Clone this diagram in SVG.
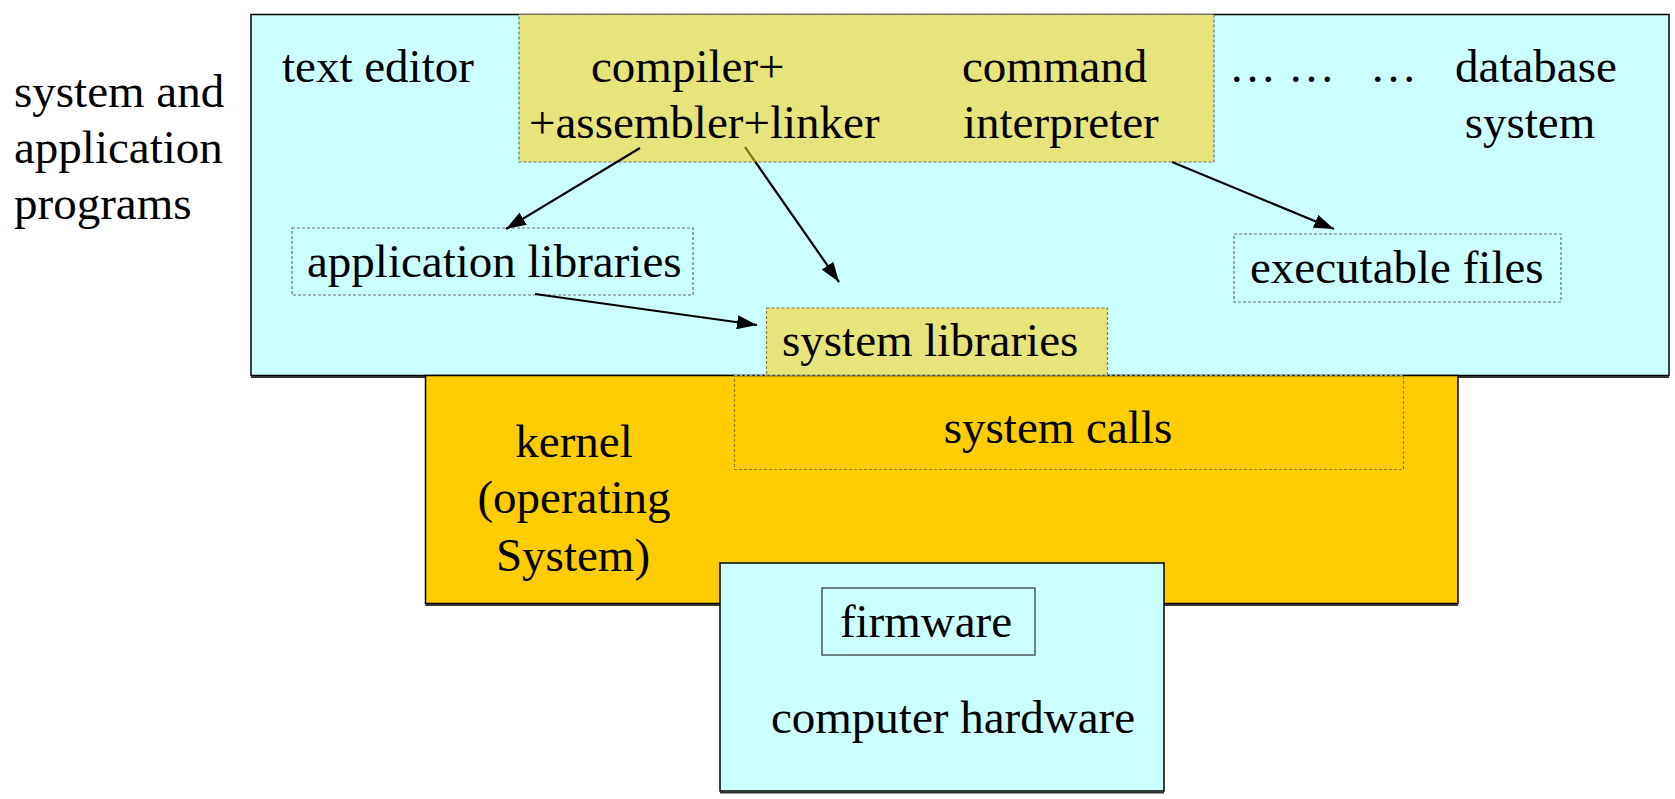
<svg xmlns="http://www.w3.org/2000/svg" width="1675" height="799" viewBox="0 0 1675 799">
<style>
text{font-family:'Liberation Serif','Times New Roman',serif;font-size:47px;fill:#000}
.cyan{fill:#CCFFFF;stroke:#000;stroke-width:1.5}
.olive{fill:#E6E47A}
.dash{fill:none;stroke:#6f6f6f;stroke-width:1.2;stroke-dasharray:3 2}
.dashO{fill:none;stroke:#8a7d3a;stroke-width:1.2;stroke-dasharray:3 2}
.conn{stroke:#000;stroke-width:2.2;fill:none}
.shadow{stroke:#333;stroke-width:2}
</style>
<defs>
<marker id="ah" viewBox="0 0 20 14" refX="20" refY="7" markerWidth="20" markerHeight="14" markerUnits="userSpaceOnUse" orient="auto">
<path d="M0,0 L20,7 L0,14 Z" fill="#000"/>
</marker>
</defs>
<rect width="1675" height="799" fill="#fff"/>

<g id="left-label">
<text x="14" y="107">system and</text>
<text x="14" y="163">application</text>
<text x="14" y="219">programs</text>
</g>

<g id="apps">
<rect class="cyan" x="251" y="14.5" width="1418" height="361"/>
<line class="shadow" x1="251" y1="377" x2="1669" y2="377"/>
<text x="282" y="82">text editor</text>
<text x="1229" y="82">…</text>
<text x="1288" y="82">…</text>
<text x="1370" y="82">…</text>
<text x="1536" y="82" text-anchor="middle">database</text>
<text x="1530" y="138" text-anchor="middle">system</text>
</g>

<g id="compiler">
<rect class="olive" x="519" y="14.5" width="695" height="147.5"/>
<rect class="dash" x="519" y="14.5" width="695" height="147.5"/>
<text x="591" y="82">compiler+</text>
<text x="529" y="138">+assembler+linker</text>
<text x="962" y="82">command</text>
<text x="963" y="138">interpreter</text>
</g>

<g id="app-libraries">
<rect class="dash" x="292" y="228" width="401" height="67"/>
<text x="307" y="277">application libraries</text>
</g>

<g id="executable-files">
<rect class="dash" x="1234" y="234" width="327" height="68"/>
<text x="1250" y="283">executable files</text>
</g>

<g id="kernel">
<rect x="425.5" y="375.5" width="1032.5" height="228" fill="#FFCC00" stroke="#000" stroke-width="1.5"/>
<line class="shadow" x1="425.5" y1="605" x2="1458" y2="605"/>
<text x="574" y="457" text-anchor="middle">kernel</text>
<text x="574" y="513" text-anchor="middle">(operating</text>
<text x="573" y="571" text-anchor="middle">System)</text>
</g>

<g id="system-calls">
<rect class="dashO" x="734.5" y="375" width="669" height="94.5"/>
<line x1="734.5" y1="375" x2="1403.5" y2="375" stroke="#a8c8c8" stroke-width="1.5" stroke-dasharray="3 2"/>
<text x="1058" y="443" text-anchor="middle">system calls</text>
</g>

<g id="system-libraries">
<rect class="olive" x="766.5" y="308" width="341" height="67"/>
<rect class="dashO" x="766.5" y="308" width="341" height="67"/>
<text x="782" y="356">system libraries</text>
</g>

<g id="hardware">
<rect class="cyan" x="720" y="563" width="444" height="228"/>
<line class="shadow" x1="720" y1="792.5" x2="1164" y2="792.5"/>
<text x="953" y="733" text-anchor="middle">computer hardware</text>
</g>

<g id="firmware">
<rect x="822" y="588" width="213" height="67" fill="none" stroke="#4a5a5a" stroke-width="1.5"/>
<text x="926" y="637" text-anchor="middle">firmware</text>
</g>

<g id="connectors">
<line class="conn" x1="640" y1="148" x2="506" y2="229" marker-end="url(#ah)"/>
<line x1="745" y1="147" x2="755.4" y2="162" stroke="#8a7410" stroke-width="2.2"/>
<line class="conn" x1="755.4" y1="162" x2="839" y2="282" marker-end="url(#ah)"/>
<line class="conn" x1="535" y1="294" x2="757" y2="325" marker-end="url(#ah)"/>
<line class="conn" x1="1172" y1="162" x2="1334" y2="229" marker-end="url(#ah)"/>
</g>
</svg>
